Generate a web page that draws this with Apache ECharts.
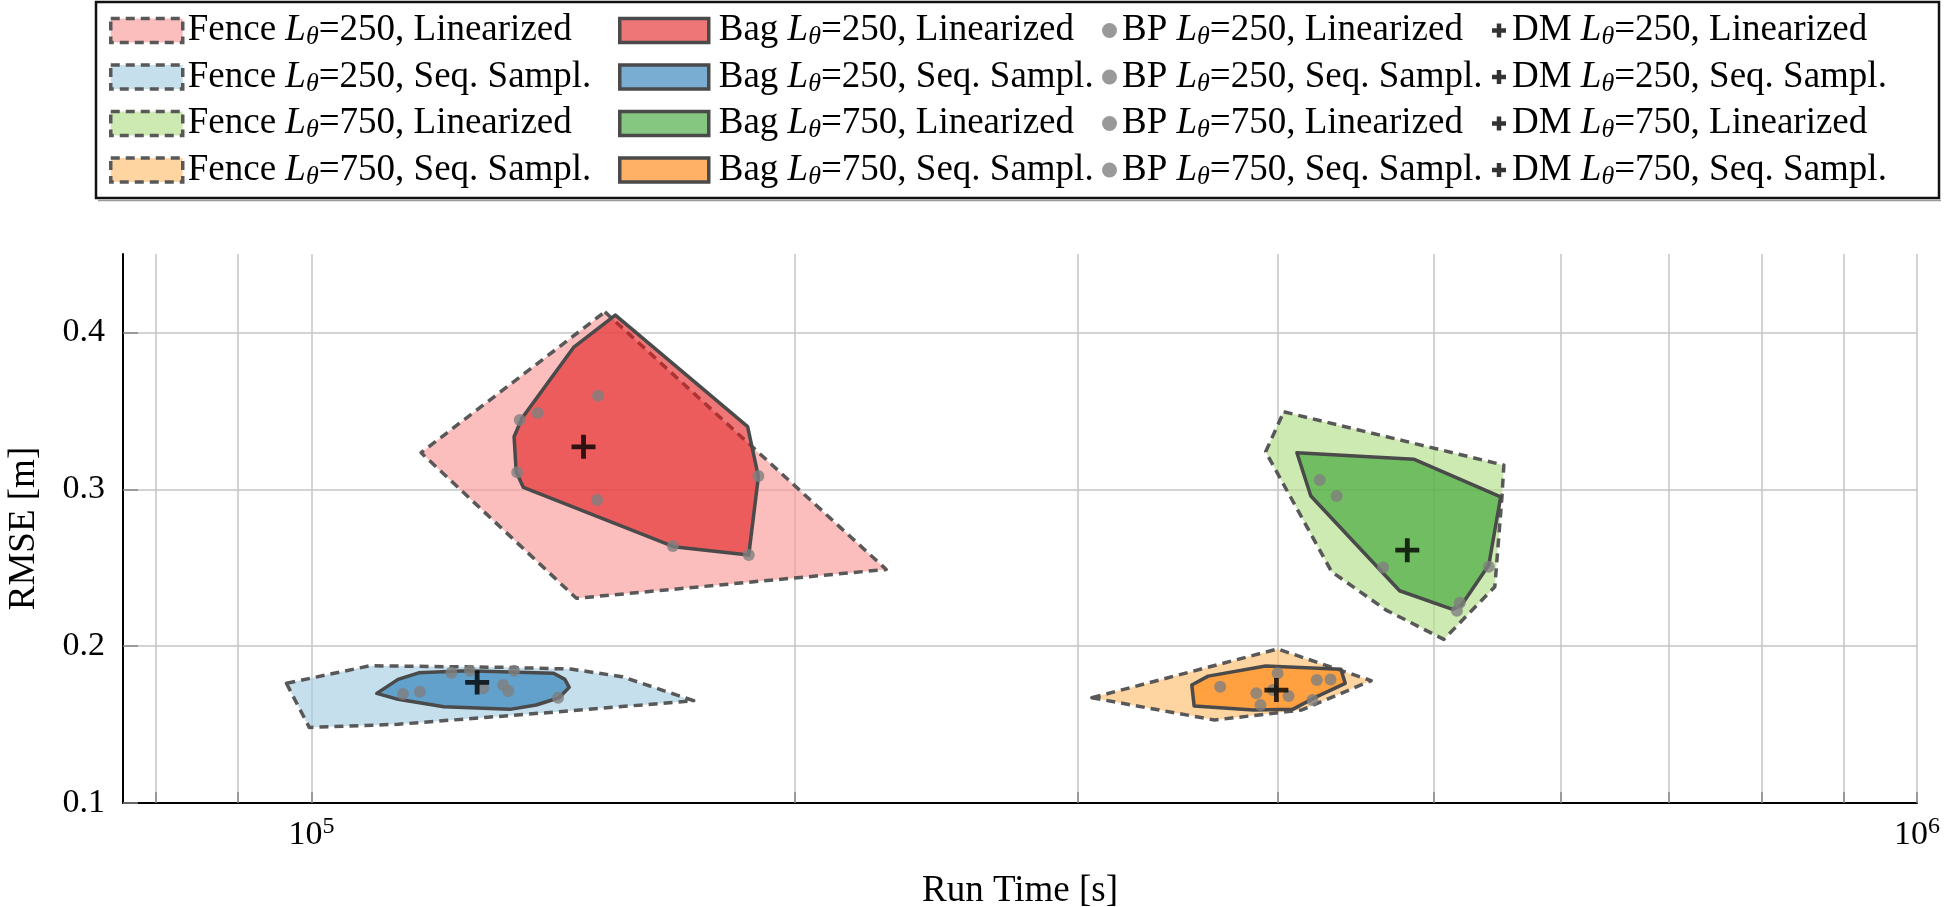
<!DOCTYPE html>
<html><head><meta charset="utf-8">
<script src="https://cdn.jsdelivr.net/npm/echarts@6/dist/echarts.min.js"></script>
<style>html,body{margin:0;padding:0;background:#fff}#c{width:1946px;height:907px}</style>
</head><body><div id="c"></div>
<script>
// ---------------- data ----------------
const seriesNames = {
  fence: ['Fence Lθ=250, Linearized','Fence Lθ=250, Seq. Sampl.','Fence Lθ=750, Linearized','Fence Lθ=750, Seq. Sampl.'],
  bag:   ['Bag Lθ=250, Linearized','Bag Lθ=250, Seq. Sampl.','Bag Lθ=750, Linearized','Bag Lθ=750, Seq. Sampl.'],
  bp:    ['BP Lθ=250, Linearized','BP Lθ=250, Seq. Sampl.','BP Lθ=750, Linearized','BP Lθ=750, Seq. Sampl.'],
  dm:    ['DM Lθ=250, Linearized','DM Lθ=250, Seq. Sampl.','DM Lθ=750, Linearized','DM Lθ=750, Seq. Sampl.']
};
// fence polygons [run time s, RMSE m]
const fence250Lin = [[152300,0.4131],[228000,0.2489],[146200,0.2305],[117000,0.3233]];
const fence250Seq = [[96450,0.1763],[108700,0.1875],[131400,0.1865],[145000,0.1854],[156100,0.1805],[173000,0.1652],[142600,0.1582],[113200,0.1502],[99670,0.1482]];
const fence750Lin = [[403200,0.3494],[552900,0.3154],[551400,0.2952],[545800,0.2379],[507300,0.2043],[467000,0.2230],[431900,0.2474],[392900,0.3239]];
const fence750Seq = [[306200,0.1671],[399700,0.1982],[457100,0.1780],[413800,0.1593],[365100,0.1529]];
// bag polygons
const bag250Lin = [[154600,0.4110],[186900,0.3399],[189800,0.3080],[187200,0.2581],[168100,0.2634],[135500,0.3012],[134100,0.3112],[133700,0.3335],[135200,0.3452],[145600,0.3904]];
const bag250Seq = [[109800,0.1699],[113200,0.1788],[116600,0.1830],[125000,0.1843],[141500,0.1827],[143800,0.1788],[144700,0.1737],[142600,0.1671],[138000,0.1625],[132900,0.1597],[120900,0.1614],[113200,0.1661]];
const bag750Lin = [[410900,0.3233],[485800,0.3192],[550400,0.2952],[541100,0.2517],[520400,0.2262],[513700,0.2234],[476100,0.2353],[419200,0.2957]];
const bag750Seq = [[353400,0.1752],[361800,0.1809],[392900,0.1873],[437700,0.1852],[440400,0.1763],[422800,0.1678],[408400,0.1597],[386100,0.1593],[354600,0.1618]];
// BP points
const bp250Lin = [[150800,0.3596],[138300,0.3487],[134800,0.3441],[134300,0.3108],[150600,0.2931],[167900,0.2638],[187200,0.2581],[189800,0.3084]];
const bp250Seq = [[114000,0.1695],[116800,0.1709],[122200,0.1830],[125500,0.1843],[133700,0.1843],[127900,0.1731],[131600,0.1752],[132600,0.1714],[142400,0.1671]];
const bp750Lin = [[424600,0.3059],[435000,0.2957],[465000,0.2502],[541100,0.2506],[519100,0.2277],[516900,0.2226]];
const bp750Seq = [[368100,0.1741],[399700,0.1827],[422800,0.1784],[431200,0.1788],[387700,0.1699],[390000,0.1625],[406000,0.1682],[420200,0.1656],[397000,0.1720]];
// DM points
const dm250Lin = [[147700,0.3271]];
const dm250Seq = [[126800,0.1769]];
const dm750Lin = [[481400,0.2612]];
const dm750Seq = [[399000,0.1720]];
// axis ticks
const xTickValues = [80000,90000,100000,200000,300000,400000,500000,600000,700000,800000,900000,1000000];
const xLabelValues = [100000,1000000];
const yTickValues = [0.1,0.2,0.3,0.4];

// ---------------- style ----------------
const FONT = '"Liberation Serif","DejaVu Serif",serif';
const FS = 37;
const lightCols = ['#fb9a99','#a6cee3','#b2df8a','#fdbf6f'];
const darkCols  = ['#e31a1c','#1f78b4','#33a02c','#ff7f00'];
function rgba(hex,a){const n=parseInt(hex.slice(1),16);return `rgba(${n>>16&255},${n>>8&255},${n&255},${a})`;}
const fenceFill = lightCols.map(c=>rgba(c,0.65));
const bagFill = darkCols.map(c=>rgba(c,0.6));
const FENCE_STROKE = '#585858', BAG_STROKE = '#4a4a4a', DASH=[9,6];
const PLUS = 'path://M40,0H60V40H100V60H60V100H40V60H0V40H40Z';
const PLUS_LEG = 'path://M34,0H66V34H100V66H66V100H34V66H0V34H34Z';

const fences=[fence250Lin,fence250Seq,fence750Lin,fence750Seq];
const bags=[bag250Lin,bag250Seq,bag750Lin,bag750Seq];
const bps=[bp250Lin,bp250Seq,bp750Lin,bp750Seq];
const dms=[dm250Lin,dm250Seq,dm750Lin,dm750Seq];

function polySeries(name, pts, fill, stroke, dashed, z){
  return {
    type:'custom', name, coordinateSystem:'cartesian2d', data:pts, encode:{x:0,y:1}, z, silent:true,
    itemStyle:{color:fill,borderColor:stroke,borderWidth:3.5,borderType:dashed?DASH:'solid'},
    renderItem(params, api){
      if(params.dataIndexInside!==0) return null;
      const points = pts.map(p=>api.coord(p));
      return {type:'polygon', shape:{points}, style:{fill, stroke, lineWidth:3.5, lineDash:dashed?DASH:null, lineJoin:'round'}};
    }
  };
}
const series=[];
fences.forEach((p,i)=>series.push(polySeries(seriesNames.fence[i],p,fenceFill[i],FENCE_STROKE,true,2)));
bags.forEach((p,i)=>series.push(polySeries(seriesNames.bag[i],p,bagFill[i],BAG_STROKE,false,3)));
bps.forEach((p,i)=>series.push({type:'scatter',name:seriesNames.bp[i],data:p,symbol:'circle',symbolSize:12,itemStyle:{color:'#808080'},z:4,silent:true}));
dms.forEach((p,i)=>series.push({type:'scatter',name:seriesNames.dm[i],data:p,symbol:PLUS,symbolSize:24,itemStyle:{color:'#000'},z:5,silent:true}));

const rich = {
  t:{fontFamily:FONT,fontSize:FS,lineHeight:40,color:'#000'},
  i:{fontFamily:FONT,fontSize:FS,fontStyle:'italic',lineHeight:40,color:'#000'},
  s:{fontFamily:FONT,fontSize:26,fontStyle:'italic',lineHeight:24,verticalAlign:'bottom',color:'#000'}
};
function legendFmt(name){ return name.replace(/^(\S+) Lθ(.*)$/, '{t|$1 }{i|L}{s|θ}{t|$2}'); }
function mkLegend(left, names, iw, ih, pad, styleFn, icon){
  return {
    orient:'vertical', left, top:7, itemWidth:iw, itemHeight:ih, itemGap:8, selectedMode:false,
    formatter:legendFmt, textStyle:{fontFamily:FONT,fontSize:FS,color:'#000',rich,padding:[0,0,0,pad]},
    data:names.map((n,i)=>({name:n, icon, itemStyle:styleFn(i)}))
  };
}
const legends=[
  mkLegend(104, seriesNames.fence, 72, 24, 0, i=>({color:fenceFill[i],borderColor:FENCE_STROKE,borderWidth:3.5,borderType:DASH}), 'rect'),
  mkLegend(613, seriesNames.bag, 89, 24, 5, i=>({color:bagFill[i],borderColor:BAG_STROKE,borderWidth:3.5,borderType:'solid'}), 'rect'),
  mkLegend(1097, seriesNames.bp, 15, 15, 0, i=>({color:'#808080',borderWidth:0}), 'circle'),
  mkLegend(1487, seriesNames.dm, 14, 14, 1, i=>({color:'#000',borderWidth:0}), PLUS_LEG)
];

const chart = echarts.init(document.getElementById('c'), null, {renderer:'canvas'});
chart.setOption({
  animation:false,
  backgroundColor:'#fff',
  grid:{left:123,right:29,top:254,bottom:104,containLabel:false,outerBoundsMode:'none'},
  legend:legends,
  graphic:[
    {type:'rect',shape:{x:96,y:2,width:1843,height:196},style:{fill:'none',stroke:'#111',lineWidth:2.5},z:100},
    {type:'line',shape:{x1:98,y1:200.5,x2:1941,y2:200.5},style:{stroke:'#9a9a9a',lineWidth:1.5},z:100}
  ],
  xAxis:{
    type:'log', logBase:10, min:76300, max:1000000,
    name:'Run Time [s]', nameLocation:'middle', nameGap:70,
    nameTextStyle:{fontFamily:FONT,fontSize:FS,color:'#000'},
    axisLine:{show:true,onZero:false,lineStyle:{color:'#000',width:2}},
    axisTick:{show:true,inside:true,length:11,customValues:xTickValues,lineStyle:{color:'#888',width:1.5}},
    splitLine:{show:true,lineStyle:{color:'#c4c4c4',width:1.5}},
    minorTick:{show:false}, minorSplitLine:{show:false},
    axisLabel:{customValues:xLabelValues, margin:12,
      formatter:v=>'{b|10}{sup|'+Math.round(Math.log10(v))+'}',
      rich:{b:{fontFamily:FONT,fontSize:34,lineHeight:40,color:'#000'},sup:{fontFamily:FONT,fontSize:24,lineHeight:20,verticalAlign:'top',color:'#000'}}}
  },
  yAxis:{
    type:'value', min:0.1, max:0.45,
    name:'RMSE [m]', nameLocation:'middle', nameGap:80, nameRotate:90,
    nameTextStyle:{fontFamily:FONT,fontSize:FS,color:'#000'},
    axisLine:{show:true,onZero:false,lineStyle:{color:'#000',width:2}},
    axisTick:{show:true,inside:true,length:15,customValues:yTickValues,lineStyle:{color:'#888',width:1.5}},
    splitLine:{show:true,lineStyle:{color:'#c4c4c4',width:1.5}},
    axisLabel:{customValues:yTickValues,margin:18,fontFamily:FONT,fontSize:34,color:'#000',formatter:v=>v.toFixed(1)}
  },
  series
});
</script></body></html>
